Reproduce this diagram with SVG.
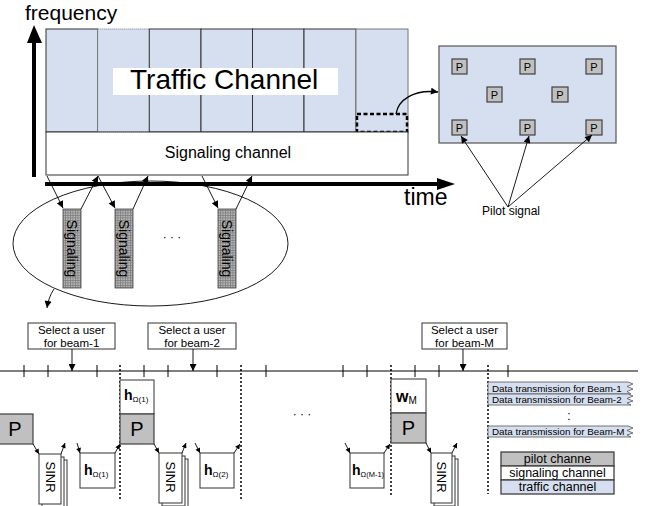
<svg xmlns="http://www.w3.org/2000/svg" width="650" height="506" viewBox="0 0 650 506">
  <style>
    text { font-family: "Liberation Sans", Arial, sans-serif; fill: #000; }
    .pgray { fill: #c0c0c0; stroke: #404040; stroke-width: 1.2; }
    .col { fill: #d6dfef; stroke: #333; stroke-width: 1; }
    .box { fill: #fff; stroke: #333; stroke-width: 1; }
    .thin { fill: none; stroke: #000; stroke-width: 0.9; }
    .dotv { fill: none; stroke: #000; stroke-width: 1.5; stroke-dasharray: 2 2; }
    .tick { stroke: #000; stroke-width: 1; }
    .sel { font-size: 11.5px; text-anchor: middle; }
  </style>
  <defs>
    <marker id="ah" viewBox="0 0 10 10" refX="10" refY="5" markerWidth="8" markerHeight="7" orient="auto" markerUnits="userSpaceOnUse">
      <path d="M0,0 L10,5 L0,10 z" fill="#000"/>
    </marker>
    <marker id="ahs" viewBox="0 0 10 10" refX="10" refY="5" markerWidth="6" markerHeight="5" orient="auto" markerUnits="userSpaceOnUse">
      <path d="M0,0 L10,5 L0,10 z" fill="#000"/>
    </marker>
    <pattern id="hatch" width="2.5" height="2.5" patternUnits="userSpaceOnUse">
      <rect width="2.5" height="2.5" fill="#b4b4b4"/>
      <path d="M0,0.4H2.5M0.4,0V2.5" stroke="#7a7a7a" stroke-width="0.7"/>
    </pattern>
  </defs>

  <!-- frequency axis -->
  <g id="freq-axis">
    <rect x="32" y="40" width="4" height="137" fill="#000"/>
    <polygon points="27,43 34,25 42,43" fill="#000"/>
    <text x="25" y="20" font-size="21">frequency</text>
  </g>

  <!-- traffic channel grid -->
  <g id="traffic-channel">
    <rect class="col" x="46" y="29" width="51.7" height="103"/>
    <rect x="97.7" y="29" width="51.6" height="103" fill="#d6dfef" stroke="#777" stroke-width="1" stroke-dasharray="1 1"/>
    <rect class="col" x="149.3" y="29" width="51.7" height="103"/>
    <rect class="col" x="201" y="29" width="51.5" height="103"/>
    <rect class="col" x="252.5" y="29" width="51.5" height="103"/>
    <rect class="col" x="304" y="29" width="52" height="103"/>
    <rect x="356" y="29" width="52" height="103" fill="#d6dfef" stroke="#777" stroke-width="1"/>
    <rect x="113" y="68" width="225" height="27" fill="#fff"/>
    <text x="130" y="89" font-size="28">Traffic Channel</text>
    <rect x="357" y="114" width="50" height="18" fill="none" stroke="#000" stroke-width="2.5" stroke-dasharray="4 2.5"/>
  </g>

  <!-- signaling channel -->
  <g id="signaling-channel">
    <rect class="box" x="46" y="132" width="362" height="43"/>
    <text x="228" y="158" font-size="16" text-anchor="middle">Signaling channel</text>
  </g>

  <!-- time axis -->
  <g id="time-axis">
    <rect x="45" y="182" width="394" height="4" fill="#000"/>
    <polygon points="437,178 455,184 437,190" fill="#000"/>
    <text x="404" y="205" font-size="23">time</text>
  </g>

  <!-- pilot pattern inset -->
  <g id="pilot-inset">
    <rect x="439" y="46" width="177" height="97" fill="#d6dfef" stroke="#555" stroke-width="1.2"/>
    <g font-size="11" text-anchor="middle">
      <rect class="pgray" x="452" y="59" width="15" height="15"/><text x="459.5" y="71">P</text>
      <rect class="pgray" x="520" y="59" width="15" height="15"/><text x="527.5" y="71">P</text>
      <rect class="pgray" x="586" y="59" width="16" height="15"/><text x="594" y="71">P</text>
      <rect class="pgray" x="487" y="87" width="15" height="15"/><text x="494.5" y="99">P</text>
      <rect class="pgray" x="552" y="87" width="16" height="15"/><text x="560" y="99">P</text>
      <rect class="pgray" x="452" y="120" width="15" height="15"/><text x="459.5" y="132">P</text>
      <rect class="pgray" x="520" y="120" width="15" height="15"/><text x="527.5" y="132">P</text>
      <rect class="pgray" x="586" y="120" width="16" height="15"/><text x="594" y="132">P</text>
    </g>
    <text x="482" y="215" font-size="12">Pilot signal</text>
  </g>

  <!-- signaling slots -->
  <g id="signaling-group">
    <ellipse cx="150.5" cy="243.5" rx="137.5" ry="62.5" fill="none" stroke="#000" stroke-width="0.9"/>
    <text x="172" y="241" font-size="12" text-anchor="middle">· · ·</text>
  </g>
  <g id="sig-slot-1">
    <rect x="63" y="209" width="18" height="79" fill="url(#hatch)" stroke="#444" stroke-width="0.8"/>
    <text transform="translate(72,248.5) rotate(90)" font-size="14" text-anchor="middle" dominant-baseline="central">Signaling</text>
  </g>
  <g id="sig-slot-2">
    <rect x="115" y="209" width="18" height="79" fill="url(#hatch)" stroke="#444" stroke-width="0.8"/>
    <text transform="translate(124,248.5) rotate(90)" font-size="14" text-anchor="middle" dominant-baseline="central">Signaling</text>
  </g>
  <g id="sig-slot-3">
    <rect x="218" y="209" width="18" height="79" fill="url(#hatch)" stroke="#444" stroke-width="0.8"/>
    <text transform="translate(227,248.5) rotate(90)" font-size="14" text-anchor="middle" dominant-baseline="central">Signaling</text>
  </g>

  <!-- scheduling timeline -->
  <g id="timeline">
    <line x1="0" y1="371" x2="638" y2="371" stroke="#000" stroke-width="1"/>
    <g class="tick">
      <line x1="24" y1="365" x2="24" y2="377"/>
      <line x1="48" y1="365" x2="48" y2="377"/>
      <line x1="97" y1="365" x2="97" y2="377"/>
      <line x1="144" y1="365" x2="144" y2="377"/>
      <line x1="168" y1="365" x2="168" y2="377"/>
      <line x1="217" y1="365" x2="217" y2="377"/>
      <line x1="266" y1="365" x2="266" y2="377"/>
      <line x1="343" y1="365" x2="343" y2="377"/>
      <line x1="367" y1="365" x2="367" y2="377"/>
      <line x1="415" y1="365" x2="415" y2="377"/>
      <line x1="439" y1="365" x2="439" y2="377"/>
      <line x1="508" y1="365" x2="508" y2="377"/>
    </g>
    <line class="dotv" x1="120" y1="365" x2="120" y2="500"/>
    <line class="dotv" x1="241" y1="365" x2="241" y2="500"/>
    <line class="dotv" x1="391" y1="365" x2="391" y2="496"/>
    <line class="dotv" x1="488" y1="365" x2="488" y2="494"/>
    <text x="302" y="418" font-size="12" text-anchor="middle">· · ·</text>
  </g>

  <g id="select-beam-1">
    <rect class="box" x="28" y="323" width="87" height="26"/>
    <text class="sel" x="71.5" y="333.5">Select a user</text>
    <text class="sel" x="71.5" y="346.5">for beam-1</text>
  </g>
  <g id="select-beam-2">
    <rect class="box" x="148" y="323" width="88" height="26"/>
    <text class="sel" x="192" y="333.5">Select a user</text>
    <text class="sel" x="192" y="346.5">for beam-2</text>
  </g>
  <g id="select-beam-M">
    <rect class="box" x="422" y="323" width="85" height="26"/>
    <text class="sel" x="464.5" y="333.5">Select a user</text>
    <text class="sel" x="464.5" y="346.5">for beam-M</text>
  </g>

  <!-- slot blocks -->
  <g id="pilot-1">
    <rect class="pgray" x="-2" y="414" width="35" height="30"/>
    <text x="15" y="436" font-size="20" text-anchor="middle">P</text>
  </g>
  <g id="sinr-1">
    <rect class="box" x="45" y="460" width="22" height="50"/>
    <rect class="box" x="42" y="457" width="22" height="50"/>
    <rect class="box" x="39" y="454" width="22" height="50"/>
    <text transform="translate(50,477) rotate(90)" font-size="13" text-anchor="middle" dominant-baseline="central">SINR</text>
  </g>
  <g id="h-1">
    <rect class="box" x="80" y="453" width="35" height="35"/>
    <text x="84" y="475" font-size="14" font-weight="bold">h<tspan font-size="8" font-weight="normal" dy="2">Ω(1)</tspan></text>
  </g>
  <g id="h-beam-1">
    <rect class="box" x="120" y="380" width="34" height="34"/>
    <text x="124" y="400" font-size="14" font-weight="bold">h<tspan font-size="8" font-weight="normal" dy="2">Ω(1)</tspan></text>
  </g>
  <g id="pilot-2">
    <rect class="pgray" x="120" y="414" width="34" height="30"/>
    <text x="137" y="436" font-size="20" text-anchor="middle">P</text>
  </g>
  <g id="sinr-2">
    <rect class="box" x="165" y="459" width="23" height="50"/>
    <rect class="box" x="162" y="456" width="23" height="50"/>
    <rect class="box" x="159" y="453" width="23" height="50"/>
    <text transform="translate(170.5,477) rotate(90)" font-size="13" text-anchor="middle" dominant-baseline="central">SINR</text>
  </g>
  <g id="h-2">
    <rect class="box" x="200" y="453" width="34" height="35"/>
    <text x="204" y="475" font-size="14" font-weight="bold">h<tspan font-size="8" font-weight="normal" dy="2">Ω(2)</tspan></text>
  </g>
  <g id="h-M-1">
    <rect class="box" x="350" y="453" width="34" height="35"/>
    <text x="352" y="475" font-size="14" font-weight="bold">h<tspan font-size="7.5" font-weight="normal" dy="2">Ω(M-1)</tspan></text>
  </g>
  <g id="w-M">
    <rect class="box" x="391" y="379" width="35" height="34"/>
    <text x="396" y="402" font-size="16" font-weight="bold">w<tspan font-size="10" font-weight="normal" dy="2">M</tspan></text>
  </g>
  <g id="pilot-M">
    <rect class="pgray" x="391" y="413" width="35" height="30"/>
    <text x="408.5" y="435" font-size="20" text-anchor="middle">P</text>
  </g>
  <g id="sinr-M">
    <rect class="box" x="437" y="459" width="21" height="50"/>
    <rect class="box" x="434" y="456" width="21" height="50"/>
    <rect class="box" x="431" y="453" width="21" height="50"/>
    <text transform="translate(441.5,477) rotate(90)" font-size="13" text-anchor="middle" dominant-baseline="central">SINR</text>
  </g>

  <!-- data transmission bars -->
  <g id="data-beam-1">
    <path d="M488,382 H628 L633,384 L627,386.5 L633,389 L627,391.5 L631,394 H488 Z" fill="#d6dfef" stroke="#555" stroke-width="0.8"/>
    <text x="492" y="391.5" font-size="9.8">Data transmission for Beam-1</text>
  </g>
  <g id="data-beam-2">
    <path d="M488,394 H628 L633,396 L627,398.5 L633,401 L627,403 L631,405 H488 Z" fill="#d6dfef" stroke="#555" stroke-width="0.8"/>
    <text x="492" y="403" font-size="9.8">Data transmission for Beam-2</text>
    <text x="569" y="420" font-size="12" text-anchor="middle">:</text>
  </g>
  <g id="data-beam-M">
    <path d="M488,426 H628 L633,428 L627,430.5 L633,433 L627,435 L631,437 H488 Z" fill="#d6dfef" stroke="#555" stroke-width="0.8"/>
    <text x="492" y="435" font-size="9.8">Data transmission for Beam-M</text>
  </g>

  <!-- legend -->
  <g id="legend">
    <rect x="501" y="452" width="113" height="14" fill="#c0c0c0" stroke="#404040" stroke-width="1.3"/>
    <rect x="501" y="466" width="113" height="14" fill="#fff" stroke="#404040" stroke-width="1.3"/>
    <rect x="501" y="480" width="113" height="14" fill="#d6dfef" stroke="#404040" stroke-width="1.3"/>
    <text x="557.5" y="463" font-size="12.5" text-anchor="middle">pilot channe</text>
    <text x="557.5" y="477" font-size="12.5" text-anchor="middle">signaling channel</text>
    <text x="557.5" y="491" font-size="12.5" text-anchor="middle">traffic channel</text>
  </g>

  <!-- connectors -->
  <g id="connectors" class="thin">
    <path d="M396,114 C398,100 414,89 438,92" stroke-width="1.3" marker-end="url(#ah)"/>
    <line x1="508" y1="207" x2="461" y2="136" marker-end="url(#ah)"/>
    <line x1="508" y1="207" x2="529" y2="136" marker-end="url(#ah)"/>
    <line x1="508" y1="207" x2="592" y2="135" marker-end="url(#ah)"/>

    <line x1="47" y1="176" x2="63" y2="208" marker-end="url(#ah)"/>
    <line x1="81" y1="209" x2="98" y2="176" marker-end="url(#ah)"/>
    <line x1="98" y1="176" x2="115" y2="208" marker-end="url(#ah)"/>
    <line x1="133" y1="209" x2="148" y2="176" marker-end="url(#ah)"/>
    <line x1="202" y1="176" x2="218" y2="208" marker-end="url(#ah)"/>
    <line x1="236" y1="209" x2="252" y2="176" marker-end="url(#ah)"/>
    <path d="M54,289 C50,295 48,301 47,308" marker-end="url(#ah)"/>

    <line x1="72" y1="349" x2="72" y2="371" marker-end="url(#ah)"/>
    <line x1="193" y1="349" x2="193" y2="371" marker-end="url(#ah)"/>
    <line x1="463" y1="349" x2="463" y2="371" marker-end="url(#ah)"/>

    <line x1="33" y1="444" x2="39" y2="454" marker-end="url(#ahs)"/>
    <line x1="61" y1="454" x2="65" y2="443" marker-end="url(#ahs)"/>
    <line x1="77" y1="443" x2="80" y2="453" marker-end="url(#ahs)"/>
    <line x1="115" y1="453" x2="120" y2="444" marker-end="url(#ahs)"/>
    <line x1="154" y1="444" x2="159" y2="453" marker-end="url(#ahs)"/>
    <line x1="182" y1="453" x2="186" y2="443" marker-end="url(#ahs)"/>
    <line x1="195" y1="443" x2="200" y2="453" marker-end="url(#ahs)"/>
    <line x1="234" y1="453" x2="240" y2="444" marker-end="url(#ahs)"/>
    <line x1="345" y1="443" x2="350" y2="453" marker-end="url(#ahs)"/>
    <line x1="384" y1="453" x2="390" y2="444" marker-end="url(#ahs)"/>
    <line x1="426" y1="443" x2="431" y2="453" marker-end="url(#ahs)"/>
    <line x1="452" y1="453" x2="457" y2="443" marker-end="url(#ahs)"/>
  </g>
</svg>
